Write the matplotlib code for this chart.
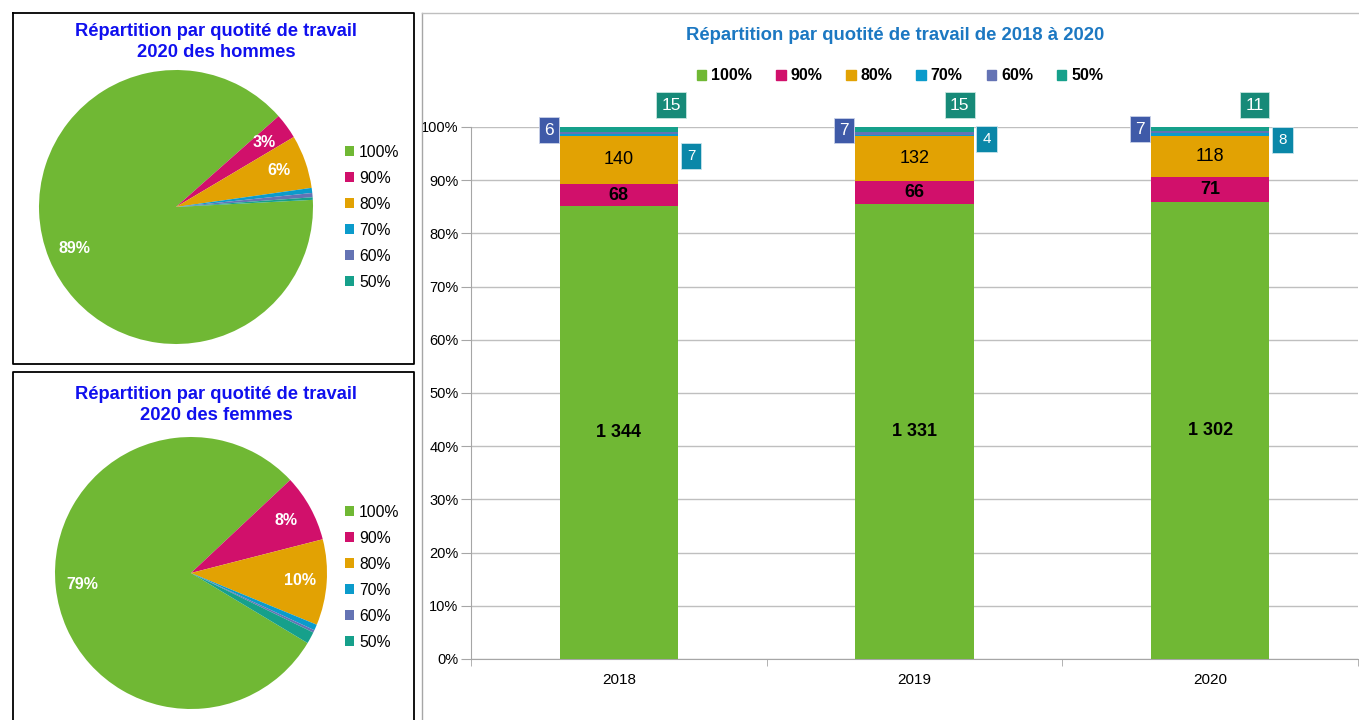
import numpy as np
import matplotlib
matplotlib.use("Agg")
import matplotlib.pyplot as plt
from matplotlib.lines import Line2D
from matplotlib.ticker import FuncFormatter, FixedLocator

plt.rcParams['font.family'] = ['Liberation Sans', 'DejaVu Sans']

# ── données ────────────────────────────────────────────────────────────────
quotites = ["100%", "90%", "80%", "70%", "60%", "50%"]
colors = ["#70B834", "#D1106B", "#E2A203", "#0B9BCB", "#6473B4", "#16A08B"]

hommes_pct = [89.3, 3.0, 6.3, 0.6, 0.5, 0.3]
femmes_pct = [79.4, 8.0, 10.2, 0.7, 0.3, 1.4]

annees = ["2018", "2019", "2020"]
eff_100 = [1344, 1331, 1302]
eff_90 = [68, 66, 71]
eff_80 = [140, 132, 118]
eff_70 = [7, 4, 8]
eff_60 = [6, 7, 7]
eff_50 = [15, 15, 11]

W, H = 1359, 720
fig = plt.figure(figsize=(W / 100, H / 100), dpi=100)

def px_box(l, t, w, h):
    return [l / W, 1 - (t + h) / H, w / W, h / H]

PX = 0.72  # px -> points

# ── cadres ─────────────────────────────────────────────────────────────────
def fline(xs, ys, **kw):
    fig.add_artist(Line2D([x / W for x in xs], [1 - y / H for y in ys],
                          transform=fig.transFigure, **kw))

fline([13, 414, 414, 13, 13], [13, 13, 364, 364, 13], color="black", lw=1.3)
fline([13, 13, 414, 414, 13], [725, 372, 372, 725, 725], color="black", lw=1.3)
fline([422, 422], [725, 13], color="#A6A6A6", lw=1.0)
fline([422, 1362], [13, 13], color="#BFBFBF", lw=1.0)

# ── camemberts ─────────────────────────────────────────────────────────────
def draw_pie(cx, cy, r, shares, start, title, title_y, leg_x, leg_y):
    ax = fig.add_axes(px_box(cx - r, cy - r, 2 * r, 2 * r))
    wedges, _, autotexts = ax.pie(
        shares, colors=colors, startangle=start, counterclock=False,
        autopct=lambda p: f"{p:.0f}%" if p >= 2 else "", pctdistance=0.8,
        wedgeprops=dict(linewidth=0),
        textprops=dict(color="white", fontweight="bold", fontsize=11.5))
    ax.set_xlim(-1, 1)
    ax.set_ylim(-1, 1)
    ax.set_aspect("equal")
    fig.text(216 / W, 1 - title_y / H, title, ha="center", va="center",
             fontsize=13.2, fontweight="bold", color="#1010EE", linespacing=1.3)
    fig.legend(wedges, quotites, loc="upper left",
               bbox_to_anchor=(leg_x / W, 1 - leg_y / H),
               frameon=False, fontsize=11.3, handlelength=0.6, handleheight=0.6,
               handletextpad=0.3, labelspacing=0.7, borderpad=0, borderaxespad=0)

draw_pie(176, 207, 137, hommes_pct, 3,
         "Répartition par quotité de travail\n2020 des hommes", 42, 345, 145)
draw_pie(191, 573, 136, femmes_pct, -31,
         "Répartition par quotité de travail\n2020 des femmes", 405, 345, 505)

# ── barres empilées 100% ───────────────────────────────────────────────────
series = [eff_100, eff_90, eff_80, eff_70, eff_60, eff_50]
counts = np.array(series, dtype=float)
totals = counts.sum(axis=0)
shares = counts / totals * 100

ax = fig.add_axes(px_box(471, 127, 887, 532))
x = np.arange(len(annees))
bw = 0.40
bottom = np.zeros(len(annees))
for s, c in zip(shares, colors):
    ax.bar(x, s, bw, bottom=bottom, color=c, linewidth=0, zorder=3)
    bottom += s

ax.set_xlim(-0.5, 2.5)
ax.set_ylim(0, 100)
ax.yaxis.set_major_locator(FixedLocator(np.arange(0, 101, 10)))
ax.yaxis.set_major_formatter(FuncFormatter(lambda v, _: f"{v:.0f}%"))
ax.grid(axis="y", color="#BFBFBF", lw=1.0, zorder=0)
ax.set_xticks(x)
ax.set_xticklabels(annees, fontsize=11)
ax.set_xticks([-0.5, 0.5, 1.5, 2.5], minor=True)
ax.tick_params(axis="x", which="major", length=0, pad=10)
ax.tick_params(axis="x", which="minor", length=5, color="#A6A6A6", direction="out")
ax.tick_params(axis="y", length=7, color="#A6A6A6", labelsize=10.5, pad=2)
for sp in ["top", "right"]:
    ax.spines[sp].set_visible(False)
for sp in ["left", "bottom"]:
    ax.spines[sp].set_color("#A6A6A6")

cum = np.cumsum(shares, axis=0)
mid = cum - shares / 2

# étiquettes internes
for i in range(len(annees)):
    ax.text(x[i], mid[0, i], f"{eff_100[i]:,}".replace(",", " "), ha="center",
            va="center", fontsize=13, fontweight="bold", zorder=5)
    ax.text(x[i], mid[1, i], f"{eff_90[i]}", ha="center", va="center",
            fontsize=13, fontweight="bold", zorder=5)
    ax.text(x[i], mid[2, i], f"{eff_80[i]}", ha="center", va="center",
            fontsize=13, zorder=5)

# étiquettes en boîtes (petites catégories)
off70_y = [-21, -4, -5]
off50_x = [-7, -14, -15]
for i in range(len(annees)):
    left = x[i] - bw / 2
    right = x[i] + bw / 2
    ax.annotate(f"{eff_60[i]}", (left, mid[4, i]), xytext=(-11 * PX, 3 * PX),
                textcoords="offset points", ha="center", va="center",
                color="white", fontsize=12.5, zorder=6, annotation_clip=False,
                bbox=dict(boxstyle="square,pad=0.3", fc="#3F5AA8", ec="#C8D0E8", lw=0.6))
    ax.annotate(f"{eff_70[i]}", (right, mid[3, i]), xytext=(13 * PX, off70_y[i] * PX),
                textcoords="offset points", ha="center", va="center",
                color="white", fontsize=11, zorder=6, annotation_clip=False,
                bbox=dict(boxstyle="square,pad=0.4", fc="#0A87A8", ec="#C8E4EC", lw=0.6))
    ax.annotate(f"{eff_50[i]}", (right, 100), xytext=(off50_x[i] * PX, 22 * PX),
                textcoords="offset points", ha="center", va="center",
                color="white", fontsize=12.5, zorder=6, annotation_clip=False,
                bbox=dict(boxstyle="square,pad=0.3", fc="#178A78", ec="#C8E6E0", lw=0.6))

fig.text(895 / W, 1 - 35 / H, "Répartition par quotité de travail de 2018 à 2020",
         ha="center", va="center", fontsize=13.3, fontweight="bold", color="#1C78C2")

handles = [plt.Rectangle((0, 0), 1, 1, color=c) for c in colors]
fig.legend(handles, quotites, loc="center", ncol=6,
           bbox_to_anchor=(900 / W, 1 - 76 / H), frameon=False,
           prop=dict(weight="bold", size=11.5), handlelength=0.6, handleheight=0.6,
           handletextpad=0.3, columnspacing=1.5, borderpad=0)

fig.savefig("out.png", dpi=100)
